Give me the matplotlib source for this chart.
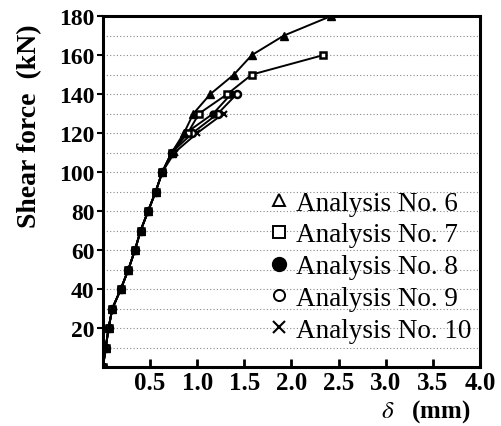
import matplotlib
matplotlib.use('Agg')
import matplotlib.pyplot as plt
from matplotlib.lines import Line2D

plt.rcParams['font.family'] = ['Liberation Serif', 'DejaVu Serif']
plt.rcParams['mathtext.fontset'] = 'stix'

# shared initial part of all curves
base_x = [0, 0.03, 0.06, 0.10, 0.19, 0.27, 0.34, 0.40, 0.48, 0.56, 0.63, 0.73]
base_y = [0, 10, 20, 30, 40, 50, 60, 70, 80, 90, 100, 110]

# Analysis No. 6 (triangle)
x6 = base_x + [0.86, 0.96, 1.14, 1.39, 1.58, 1.92, 2.42]
y6 = base_y + [120, 130, 140, 150, 160, 170, 180]
# Analysis No. 7 (square)
x7 = base_x + [0.90, 1.02, 1.32, 1.58, 2.34]
y7 = base_y + [120, 130, 140, 150, 160]
# Analysis No. 8 (filled circle)
x8 = base_x + [0.88, 1.17, 1.36]
y8 = base_y + [120, 130, 140]
# Analysis No. 9 (open circle)
x9 = base_x + [0.95, 1.22, 1.42]
y9 = base_y + [120, 130, 140]
# Analysis No. 10 (cross)
x10 = base_x[:-1] + [0.76, 1.00, 1.28]
y10 = base_y[:-1] + [110, 120, 130]

labels = ['Analysis No. 6', 'Analysis No. 7', 'Analysis No. 8',
          'Analysis No. 9', 'Analysis No. 10']

fig = plt.figure(figsize=(5.02, 4.27), dpi=100)
ax = fig.add_axes([0.205, 0.138, 0.751, 0.822])

# dotted horizontal grid
for g in range(10, 180, 10):
    ax.axhline(g, color='#888888', lw=0.8, ls=(0, (1, 2)), zorder=0)

ax.plot(x10, y10, color='black', lw=1.4, marker='x', ms=5, mew=1.5)
ax.plot(x9, y9, color='black', lw=1.4, marker='o', ms=5, mfc='white', mew=1.8)
ax.plot(x8, y8, color='black', lw=1.4, marker='o', ms=5, mfc='black')
ax.plot(x7, y7, color='black', lw=1.4, marker='s', ms=5, mfc='white', mew=1.8)
ax.plot(x6, y6, color='black', lw=1.4, marker='^', ms=5.5, mfc='black')

ax.set_xlim(0, 4.0)
ax.set_ylim(0, 180)
ax.set_xticks([0.5, 1.0, 1.5, 2.0, 2.5, 3.0, 3.5, 4.0])
ax.set_xticklabels(['0.5', '1.0', '1.5', '2.0', '2.5', '3.0', '3.5', '4.0'])
ax.set_yticks(range(20, 181, 20))

for s in ax.spines.values():
    s.set_linewidth(2.2)

ax.tick_params(axis='x', direction='in', length=6, width=2, labelsize=18, pad=3)
ax.tick_params(axis='y', direction='out', length=4, width=1.5, labelsize=17, pad=2)
for t in ax.get_xticklabels() + ax.get_yticklabels():
    t.set_fontweight('bold')

ax.set_ylabel('Shear force  (kN)', fontsize=20, fontweight='bold')
ax.yaxis.set_label_coords(-0.16, 0.69)
ax.set_xlabel(r'$\delta$   (mm)', fontsize=18, fontweight='bold', ha='right')
ax.xaxis.set_label_coords(0.976, -0.085)

handles = [
    Line2D([], [], ls='none', marker='^', ms=9, mfc='white', mec='black', mew=1.4),
    Line2D([], [], ls='none', marker='s', ms=8, mfc='white', mec='black', mew=1.4),
    Line2D([], [], ls='none', marker='o', ms=10, mfc='black', mec='black'),
    Line2D([], [], ls='none', marker='o', ms=8, mfc='white', mec='black', mew=1.4),
    Line2D([], [], ls='none', marker='x', ms=8, mec='black', mew=1.5),
]
ax.legend(handles, labels, loc='lower right', bbox_to_anchor=(0.985, 0.062),
          frameon=False, fontsize=19.5, handlelength=0.7, handletextpad=0.3,
          labelspacing=0.25, borderaxespad=0.0, borderpad=0.1)

fig.savefig('out.png', dpi=100)
